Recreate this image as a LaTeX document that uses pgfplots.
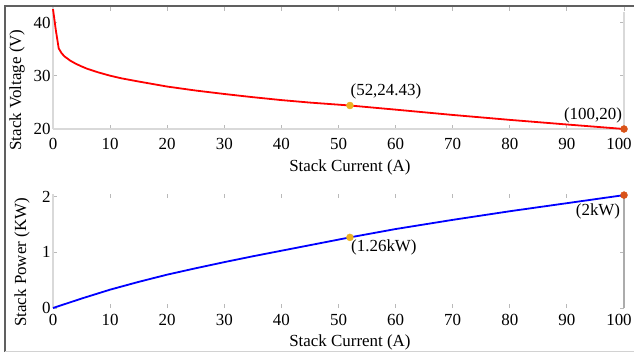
\documentclass[border=0pt]{standalone}
\usepackage{pgfplots}
\pgfplotsset{compat=1.18}
\usepackage{fontspec}
\setmainfont{Liberation Serif}
\definecolor{mgold}{HTML}{EDB120}
\definecolor{morange}{HTML}{D95319}
\pgfplotsset{
  myax/.style={
    scale only axis, width=571bp, xmin=0, xmax=100, clip=false,
    xtick={0,10,...,90}, extra x ticks={100},
    extra x tick style={xticklabel style={xshift=-5bp}},
    axis line style={draw=none},
    tick style={gray!55, line width=1bp},
    major tick length=4bp,
    tick label style={font=\fontsize{17}{20}\selectfont},
    label style={font=\fontsize{17}{20}\selectfont},
    /pgf/number format/assume math mode=true,
    yticklabel style={xshift=1bp},
  }
}
\begin{document}
\begin{tikzpicture}[x=1bp,y=1bp]
\path[use as bounding box] (0,0) rectangle (634,353);
\draw[gray!75!black, line width=1.5bp] (5,1) -- (5,347) -- (634,347);
\draw[gray!35, line width=1bp] (5,1.5) -- (634,1.5);

% top axis
\begin{axis}[myax, at={(53bp,224bp)}, anchor=south west, height=122bp,
  ymin=20, ymax=43, ytick={20,30,40},
  xticklabel style={yshift=-6bp},
  xlabel={Stack Current (A)}, ylabel={Stack Voltage (V)},
  xlabel style={at={(axis description cs:0.52,0)}, anchor=north, yshift=-27bp},
  ylabel style={at={(axis description cs:-0.063,0.32)}, anchor=center}]
\draw[gray!30, line width=1.2bp] (axis cs:0,20) -- (axis cs:0,43);
\draw[gray!30, line width=1.2bp] (axis cs:0,20) -- (axis cs:100,20);
\draw[gray!30, line width=1.2bp] (axis cs:100,20) -- (axis cs:100,42);
\addplot[red, line width=1.8bp] coordinates {
(0,42.6) (0.5,38.6) (1,35.2) (1.5,34.3) (2,33.7) (3,32.9) (4,32.3) (5,31.8)
(6,31.35) (8,30.65) (10,30.05) (12,29.55) (15,28.95) (20,28.0) (25,27.25) (30,26.6)
(35,26.0) (40,25.45) (45,24.98) (52,24.43) (60,23.65) (70,22.65) (80,21.72)
(90,20.85) (100,20.0)};
\addplot[only marks, mark=*, mark size=3.5bp, mgold] coordinates {(52,24.43)};
\addplot[only marks, mark=*, mark size=3.5bp, morange] coordinates {(100,20)};
\node[font=\fontsize{17}{20}\selectfont] at (axis cs:52,24.43) [xshift=36bp, yshift=14bp] {(52,24.43)};
\node[font=\fontsize{17}{20}\selectfont] at (axis cs:100,20) [xshift=-31bp, yshift=14bp] {(100,20)};
\end{axis}

% bottom axis
\begin{axis}[myax, at={(53bp,45bp)}, anchor=south west, height=114bp,
  ymin=0, ymax=2.05, ytick={0,1,2},
  xticklabel style={yshift=-3bp},
  xlabel={Stack Current (A)}, ylabel={Stack Power (KW)},
  xlabel style={at={(axis description cs:0.52,0)}, anchor=north, yshift=-23bp},
  ylabel style={at={(axis description cs:-0.054,0.40)}, anchor=center}]
\draw[gray!30, line width=1.2bp] (axis cs:0,0) -- (axis cs:0,2.05);
\draw[gray!65, line width=1.5bp] (axis cs:100,0) -- (axis cs:100,2.0);
\addplot[blue, line width=1.8bp] coordinates {
(0,0) (5,0.17) (10,0.33) (15,0.47) (20,0.60) (25,0.715) (30,0.825)
(35,0.93) (40,1.03) (45,1.13) (52,1.27) (60,1.42) (70,1.585) (80,1.74)
(90,1.885) (100,2.03)};
\addplot[only marks, mark=*, mark size=3.5bp, mgold] coordinates {(52,1.27)};
\addplot[only marks, mark=*, mark size=3.5bp, morange] coordinates {(100,2.03)};
\node[font=\fontsize{17}{20}\selectfont] at (axis cs:52,1.27) [xshift=34bp, yshift=-10bp] {(1.26kW)};
\node[font=\fontsize{17}{20}\selectfont] at (axis cs:100,2.03) [xshift=-26bp, yshift=-16bp] {(2kW)};
\end{axis}
\end{tikzpicture}
\end{document}
